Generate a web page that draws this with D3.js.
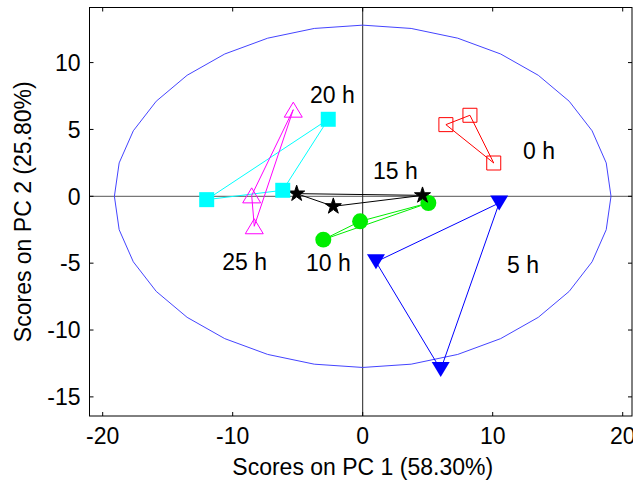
<!DOCTYPE html>
<html>
<head>
<meta charset="utf-8">
<script src="https://cdn.jsdelivr.net/npm/d3@7"></script>
<style>
body { margin: 0; background: #fff; }
svg { display: block; font-family: Arial, "Liberation Sans", sans-serif; }
</style>
</head>
<body>
<div id="chart"></div>
<script>
// sample groups (hours) and their PC scores
var groups = ["0 h", "5 h", "10 h", "15 h", "20 h", "25 h"];
var pc1 = [
    [6.4, 8.25, 10.08],
    [10.5, 1.02, 6.0],
    [5.05, -0.2, -3.03],
    [4.6, -5.08, -2.26],
    [-2.65, -6.15, -12.0],
    [-5.34, -8.54, -8.34]
];
var pc2 = [
    [5.36, 6.06, 2.49],
    [-0.5, -4.9, -12.96],
    [-0.5, -1.87, -3.24],
    [0.07, 0.2, -0.75],
    [5.76, 0.45, -0.25],
    [6.48, 0.07, -2.24]
];
// where the group names sit (data units, left/baseline)
var labelX = [12.33, 11.1, -4.36, 0.79, -4.05, -10.8];
var labelY = [2.77, -5.72, -5.59, 1.27, 6.95, -5.51];

var xTicks = [-20, -10, 0, 10, 20];
var yTicks = [-15, -10, -5, 0, 5, 10];
var ellipseA = 19.1, ellipseB = 12.8;

var colors = ["#ff0000", "#0000ff", "#00ee00", "#000000", "#00ffff", "#ff00ff"];
var filled = [false, true, true, true, true, false];

var margin = {top: 7.5, right: 1, bottom: 68, left: 89.5},
    width = 633 - margin.left - margin.right,
    height = 484 - margin.top - margin.bottom;

var x = d3.scaleLinear().domain([-21.015, 20.715]).range([0, width]);
var y = d3.scaleLinear().domain([-16.43, 14.12]).range([height, 0]);

var svg = d3.select("#chart").append("svg")
    .attr("width", 633)
    .attr("height", 484)
  .append("g")
    .attr("transform", "translate(" + margin.left + "," + margin.top + ")");

// marker shapes
function square(s) {
    var h = s / 2;
    return "M" + (-h) + "," + (-h) + "H" + h + "V" + h + "H" + (-h) + "Z";
}
function triangle(w, h, down) {
    var k = down ? -1 : 1;
    return "M0," + (-k * h / 2) + "L" + (w / 2) + "," + (k * h / 2) + "L" + (-w / 2) + "," + (k * h / 2) + "Z";
}
var markerPath = [
    square(14),
    triangle(18, 15, true),
    d3.symbol(d3.symbolCircle, 200)(),
    d3.symbol(d3.symbolStar, 80)(),
    square(15),
    triangle(18, 15, false)
];

// zero lines
svg.append("line")
    .attr("x1", 0).attr("x2", width)
    .attr("y1", y(0)).attr("y2", y(0))
    .attr("stroke", "#555").attr("stroke-width", 1);
svg.append("line")
    .attr("x1", x(0)).attr("x2", x(0))
    .attr("y1", 0).attr("y2", height)
    .attr("stroke", "#222").attr("stroke-width", 1);

// confidence ellipse
var angles = d3.range(0, 33).map(function(i) { return i * 2 * Math.PI / 32; });
svg.append("path")
    .attr("d", d3.line()
        .x(function(t) { return x(ellipseA * Math.cos(t)); })
        .y(function(t) { return y(ellipseB * Math.sin(t)); })(angles))
    .attr("fill", "none")
    .attr("stroke", "#4444ff")
    .attr("stroke-width", 1);

var line = d3.line().curve(d3.curveLinearClosed)
    .x(function(d) { return x(d[0]); })
    .y(function(d) { return y(d[1]); });

groups.forEach(function(g, i) {
    var pts = pc1[i].map(function(v, j) { return [v, pc2[i][j]]; });
    svg.append("path")
        .attr("d", line(pts))
        .attr("fill", "none")
        .attr("stroke", colors[i])
        .attr("stroke-width", 1);
    svg.selectAll(".m" + i)
        .data(pts)
        .enter()
        .append("path")
            .attr("class", "m" + i)
            .attr("transform", function(d) { return "translate(" + x(d[0]) + "," + y(d[1]) + ")"; })
            .attr("d", markerPath[i])
            .attr("fill", filled[i] ? colors[i] : "none")
            // stars get a thin outline so they read as heavy as the original
            .attr("stroke", filled[i] && i != 3 ? "none" : colors[i])
            .attr("stroke-width", 1);
});

// group labels
svg.selectAll(".glabel")
    .data(groups)
    .enter()
    .append("text")
        .attr("class", "glabel")
        .attr("x", function(d, i) { return x(labelX[i]); })
        .attr("y", function(d, i) { return y(labelY[i]); })
        .attr("font-size", "23px")
        .text(function(d) { return d; });

// box + inward ticks
svg.append("rect")
    .attr("width", width).attr("height", height)
    .attr("fill", "none").attr("stroke", "#000").attr("stroke-width", 1);

var tl = 4;
svg.selectAll(".xt")
    .data(xTicks)
    .enter()
    .append("path")
        .attr("d", function(d) {
            return "M" + x(d) + "," + height + "v" + (-tl) + "M" + x(d) + ",0v" + tl;
        })
        .attr("stroke", "#000");
svg.selectAll(".yt")
    .data(yTicks)
    .enter()
    .append("path")
        .attr("d", function(d) {
            return "M0," + y(d) + "h" + tl + "M" + width + "," + y(d) + "h" + (-tl);
        })
        .attr("stroke", "#000");

svg.selectAll(".xl")
    .data(xTicks)
    .enter()
    .append("text")
        .attr("x", function(d) { return x(d); })
        .attr("y", height + 28)
        .attr("text-anchor", "middle")
        .attr("font-size", "23px")
        .text(function(d) { return d; });
svg.selectAll(".yl")
    .data(yTicks)
    .enter()
    .append("text")
        .attr("x", -9)
        .attr("y", function(d) { return y(d); })
        .attr("dy", "0.36em")
        .attr("text-anchor", "end")
        .attr("font-size", "23px")
        .text(function(d) { return d; });

svg.append("text")
    .attr("x", x(0))
    .attr("y", height + 59)
    .attr("text-anchor", "middle")
    .attr("font-size", "23px")
    .text("Scores on PC 1 (58.30%)");

svg.append("text")
    .attr("transform", "translate(" + (-59) + "," + (height / 2) + ") rotate(-90)")
    .attr("text-anchor", "middle")
    .attr("font-size", "23px")
    .text("Scores on PC 2 (25.80%)");
</script>
</body>
</html>
